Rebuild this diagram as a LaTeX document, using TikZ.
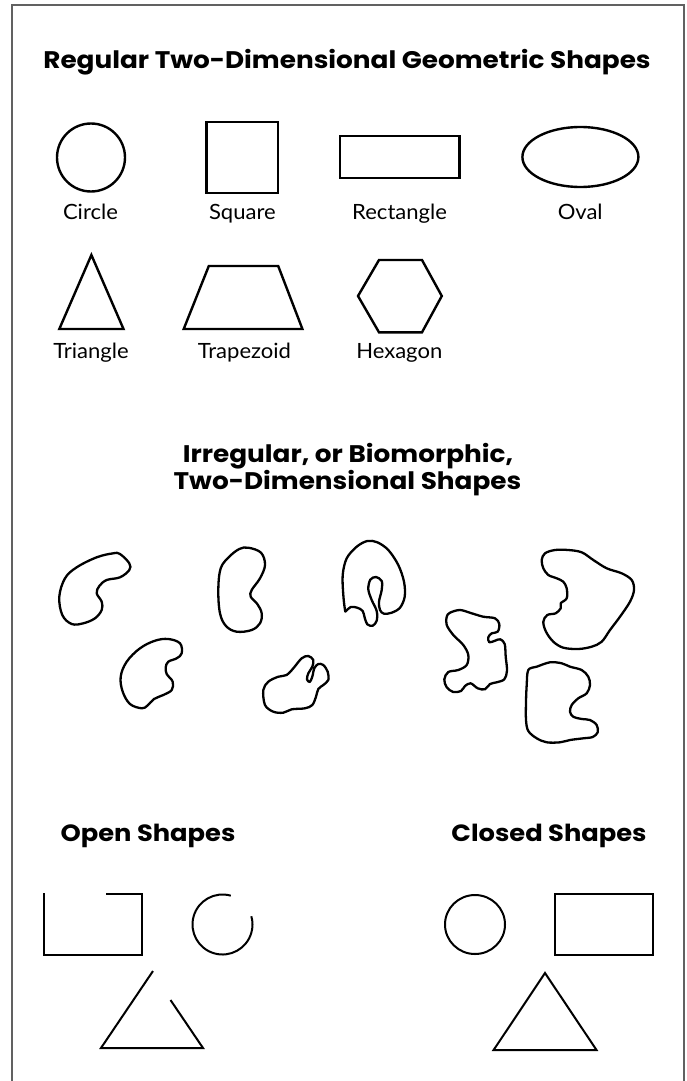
\documentclass[tikz,border=0pt]{standalone}
\usepackage{fontspec}
\setmainfont{Lato}
\newfontfamily\labfont{Lato}[FakeStretch=1.05]
\newfontfamily\ttlfont{Poppins}[FakeStretch=1.096]
\begin{document}
\begin{tikzpicture}[x=1pt,y=-1pt,
  shp/.style={line width=2.4pt, line join=miter},
  oshp/.style={line width=2pt, line join=miter},
  blob/.style={line width=2.3pt, line join=round},
  lab/.style={anchor=base, inner sep=0pt, font=\labfont\fontsize{21}{24}\selectfont},
  ttl/.style={anchor=base, inner sep=0pt, font=\ttlfont\bfseries\fontsize{24}{28}\selectfont},
  sttl/.style={anchor=base, inner sep=0pt, font=\ttlfont\bfseries\fontsize{23.5}{28}\selectfont},
  frm/.style={line width=2pt, draw=black!62}]
\useasboundingbox (0,0) rectangle (687,1081);
\draw[frm] (11.7,1081) -- (11.7,4.7) -- (683.7,4.7) -- (683.7,1081);

% Title 1
\node[ttl] (t1) at (347,68.3) {Regular Two-Dimensional Geometric Shapes};

% Row 1
\draw[shp] (91,157.5) circle (34);
\draw[shp] (206.6,122) rectangle (277.8,193);
\draw[shp] (339.8,136) rectangle (459.3,178);
\draw[shp] (580.4,157) ellipse (58 and 30);
\node[lab] (lc) at (90.5,219) {Circle};
\node[lab] (ls) at (242.4,219) {Square};
\node[lab] (lr) at (399.6,219) {Rectangle};
\node[lab] (lo) at (580.2,219) {Oval};

% Row 2
\draw[shp] (91.4,255) -- (123.5,329) -- (59.3,329) -- cycle;
\draw[shp] (208.8,266) -- (278.2,266) -- (302.4,329) -- (183.7,329) -- cycle;
\draw[shp] (379,260) -- (422,260) -- (441.8,296) -- (422,332.3) -- (379,332.3) -- (358,296) -- cycle;
\node[lab] (lt) at (91,358) {Triangle};
\node[lab] (lz) at (244.4,358) {Trapezoid};
\node[lab] (lh) at (399.3,358) {Hexagon};

% Title 2
\node[ttl] (t2a) at (348,462.7) {Irregular, or Biomorphic,};
\node[ttl] (t2b) at (347.5,489) {Two-Dimensional Shapes};

% Biomorphic shapes
\draw[blob] plot[smooth cycle, tension=0.6] coordinates {
 (120,554) (129.3,563.3) (129.3,570) (120,577.3) (106.7,580) (99.3,586) (96.7,593.3)
 (101.7,601.7) (101.7,610) (95,618.3) (83.3,623.3) (71.7,624) (62.3,615) (59.3,596.7)
 (65,578.3) (76.7,567.3) (96.7,557.3) (113.3,553.3)};
\draw[blob] plot[smooth cycle, tension=0.6] coordinates {
 (248.3,547.7) (261,552.7) (265,565) (260,578.3) (251.7,590) (250.7,596.7) (257.3,604)
 (261.7,613.3) (260,623.3) (251.7,630) (236.7,631.7) (226,626) (220,613.3) (218.3,590)
 (220.7,568.3) (229.3,556.7) (239.3,549)};
\draw[blob] plot[smooth cycle, tension=0.6] coordinates {
 (168.3,639) (180,643.3) (181.7,653.3) (176.7,658.3) (168.3,661.7) (165.7,667.3) (166.7,674)
 (172.7,681.7) (171.7,690) (163.3,695) (154,699) (147.3,705.7) (141.7,708.3) (130,704)
 (122.7,691.7) (120.7,676.7) (126.7,661.7) (140,648.3) (155,640.7)};
\draw[blob] plot[smooth cycle, tension=0.55] coordinates {
 (263.3,690) (268.3,681.7) (278.3,676.7) (286.7,675) (293.3,668.3) (301.7,658.3) (308.3,656)
 (313.3,660) (312.3,666.7) (308.3,673.3) (307,679.3) (309.7,682) (312.3,676.7) (314.3,668.3)
 (318.3,664) (323.3,665) (327.7,671.7) (328.3,680) (323.3,685) (318.3,689) (316,696.7)
 (312.3,705) (305,708.3) (291.7,709.3) (283.3,712.7) (273.3,711.7) (265,705)};
\draw[blob] plot[smooth cycle, tension=0.55] coordinates {
 (345,610) (343.3,595) (342.7,575) (346.7,558.3) (356.7,546.7) (367.3,541) (377.3,542.3)
 (388.3,550) (398.3,565) (404,581.7) (404.7,596.7) (400,607.7) (391.7,612.7) (384,613.7)
 (380,610) (379,601.7) (381.7,590) (381.7,581) (376,577) (370.3,579.7) (368.3,589.3)
 (371.7,600) (376.7,611) (376.7,620.7) (372.7,625.7) (367.3,624.3) (364.7,617.7)
 (362.7,611) (357.3,607.7) (350.7,607) (346,611)};
\draw[blob] plot[smooth cycle, tension=0.55] coordinates {
 (450,612.7) (460,610) (471.7,613.3) (483.3,616.7) (495,618.3) (499.3,624) (497.7,631.7)
 (491.7,633.3) (488.3,637.3) (489.3,642.3) (495,640.7) (500.3,639.3) (504.7,644)
 (505.7,656.7) (507,670.7) (504.3,679.3) (496.7,682.3) (490,684) (485,689.3) (477.7,688.3)
 (470.7,683.3) (465,686) (461,691) (453.3,692) (446.7,687.3) (444.3,679.3) (448.3,672)
 (458.3,670) (466.7,665) (468.3,655) (463.3,645) (453.3,635) (446.7,625) (446.7,616.7)};
\draw[blob] plot[smooth cycle, tension=0.55] coordinates {
 (545,553.3) (555,550) (568.3,550) (581.7,552.3) (593.3,560) (606.7,568.3) (621.7,573.3)
 (631.7,580) (634,590) (630,601.7) (620,616.7) (610,630) (601.7,641.7) (591.7,646.7)
 (578.3,649) (563.3,647.7) (553.3,641.7) (546,631.7) (543.3,621.7) (547.3,615) (555.7,613.3)
 (560.7,608.3) (560.7,603.3) (566.7,598.3) (566.7,588.3) (563.3,581.7) (556.7,578.3)
 (548.3,575) (543.3,568.3) (541.7,560)};
\draw[blob] plot[smooth cycle, tension=0.55] coordinates {
 (528.3,670) (536.7,666.7) (550,662.3) (561.7,663.3) (570,666.7) (581.7,670) (588.3,676.7)
 (590,685) (586.7,693.3) (578.3,698.3) (571.7,705) (570,711.7) (573.3,716.7) (581.7,719)
 (590,720) (596.7,725) (597.7,732.3) (592.7,737) (583.3,738.3) (570,740) (560,742.3)
 (546.7,742.3) (536.7,738.3) (528.3,731) (526,720) (526,701.7) (526.7,685)};

% Open / Closed
\node[sttl] (to) at (148,841.7) {Open Shapes};
\node[sttl] (tc) at (549,841.7) {Closed Shapes};

\draw[oshp] (44,893) -- (44,955) -- (141.5,955) -- (141.5,894) -- (106,894);
\draw[oshp] (222.5,924.5) ++(-74:30) arc[start angle=-74, end angle=-376, radius=30];
\draw[oshp] (153,971) -- (101,1048) -- (203,1048) -- (170.5,1000);

\draw[oshp] (475,924.5) ellipse (30 and 29.5);
\draw[oshp] (555,894) rectangle (653,955);
\draw[oshp] (545,973) -- (596.5,1050) -- (493.6,1050) -- cycle;
\end{tikzpicture}
\end{document}
